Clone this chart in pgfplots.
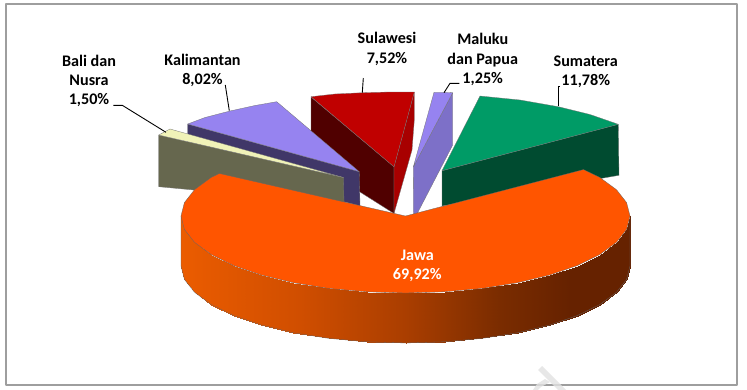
\documentclass[border=0pt]{standalone}
\usepackage{pgfplots}
\pgfplotsset{compat=1.18}
\usepackage{fontspec}
\setmainfont{Carlito}
\definecolor{jawa}{HTML}{FF5500}
\definecolor{kali}{HTML}{9683F0}
\definecolor{kaliw}{HTML}{403768}
\definecolor{bali}{HTML}{F0F2B8}
\definecolor{baliw}{HTML}{66674E}
\definecolor{sul}{HTML}{C00000}
\definecolor{sulL}{HTML}{500000}
\definecolor{sulR}{HTML}{A80000}
\definecolor{mal}{HTML}{9683F0}
\definecolor{malw}{HTML}{7D70C8}
\definecolor{sum}{HTML}{009B66}
\definecolor{sumw}{HTML}{004B30}
\definecolor{wm}{HTML}{E2E2E2}
\tikzset{
  lab/.style={font=\bfseries\fontsize{16.2}{19.3}\selectfont,align=center,text=black,inner sep=0pt},
  edge/.style={draw=black!55,line width=0.3pt},
  lead/.style={draw=black,line width=0.9pt,no marks},
}
\begin{document}
\begin{tikzpicture}
\begin{axis}[
  width=747bp,height=390bp,scale only axis,
  xmin=0,xmax=747,ymin=0,ymax=390,y dir=reverse,
  axis line style={draw=none},ticks=none,clip=false,
  every axis plot/.append style={line join=round},
  colormap={jside}{rgb255(181)=(235,92,0) rgb255(300)=(208,78,0) rgb255(405)=(170,62,0) rgb255(500)=(122,44,0) rgb255(570)=(102,34,0) rgb255(630)=(102,34,0)},
  point meta min=181,point meta max=630,
]
% frame
\addplot[draw=black!38,line width=1.2pt,fill=white] coordinates {(6,4)(737,4)(737,385)(6,385)} --cycle;
% faint watermark strokes
\addplot[fill=wm,draw=none,opacity=0.8] coordinates {(538,370)(542,366)(566,389.9)(558,389.9)} --cycle;
\addplot[fill=wm,draw=none,opacity=0.8] coordinates {(533,389.9)(537,384)(545,379)(550,382)(541,387)(538,389.9)} --cycle;
% Sulawesi
\addplot[fill=sulL,edge] coordinates {(311,97)(394,166.8)(394,213.5)(360,192)(311,160)} --cycle;
\addplot[fill=sulR,edge] coordinates {(414.3,92)(394,166.8)(394,213.5)(412,150)(414.3,120)} --cycle;
\addplot[fill=sul,edge] coordinates {(311,96.7)(335,94)(363,92.7)(390,92)(414.3,92)(394,166.8)} --cycle;
% Kalimantan
\addplot[fill=kaliw,edge] coordinates {(187.7,124)(359.3,171.7)(360,206)(187.7,160)} --cycle;
\addplot[fill=kali,edge] coordinates {(187.7,124)(205,117.5)(230,111)(255,105.5)(276.7,101.7)(359.3,171.7)} --cycle;
% Bali dan Nusra
\addplot[fill=baliw,edge] coordinates {(158.7,135)(343.5,177.5)(344,204)(158.7,186.7)} --cycle;
\addplot[fill=bali,edge] coordinates {(158.7,135)(170,129)(343.5,177.5)} --cycle;
% Maluku dan Papua
\addplot[fill=malw,edge] coordinates {(452.7,92.7)(413.3,167)(413.5,214)(417.5,213)(452.7,145)} --cycle;
\addplot[fill=mal,edge] coordinates {(434,92.3)(443,92.3)(452.7,92.7)(413.3,167)} --cycle;
% Sumatera
\addplot[fill=sumw,edge] coordinates {(442,170.7)(618.3,124.3)(619,175.3)(442,206)} --cycle;
\addplot[fill=sum,edge] coordinates {(480,96)(520,100)(558.3,106.7)(590,114.5)(618.3,124.3)(442,170.7)} --cycle;
% Jawa side
\addplot[surf,shader=interp,mesh/rows=2,point meta=x] coordinates {
 (181,216)(184.4,229.4)(194.5,242.3)(211.1,254.5)(233.5,265.5)(261.2,275)(293.2,282.7)(328.7,288.4)(366.5,291.8)(405.5,293)
 (444.5,291.8)(482.3,288.4)(517.8,282.7)(549.8,275)(577.5,265.5)(599.9,254.5)(616.5,242.3)(626.6,229.4)(630,216)

 (181,266)(184.4,279.4)(194.5,292.3)(211.1,304.5)(233.5,315.5)(261.2,325)(293.2,332.7)(328.7,338.4)(366.5,341.8)(405.5,343)
 (444.5,341.8)(482.3,338.4)(517.8,332.7)(549.8,325)(577.5,315.5)(599.9,304.5)(616.5,292.3)(626.6,279.4)(630,266)};
\addplot[draw=black!60,line width=0.3pt] coordinates {(181,216)(181,266)(184.4,279.4)(194.5,292.3)(211.1,304.5)(233.5,315.5)(261.2,325)(293.2,332.7)(328.7,338.4)(366.5,341.8)(405.5,343)
 (444.5,341.8)(482.3,338.4)(517.8,332.7)(549.8,325)(577.5,315.5)(599.9,304.5)(616.5,292.3)(626.6,279.4)(630,266)(630,216)};
% Jawa top
\addplot[fill=jawa,draw=black!60,line width=0.3pt] coordinates {
 (405.5,216)(583.5,169.6)(599.9,177.5)(616.5,189.7)(626.6,202.6)(630,216)
 (626.6,229.4)(616.5,242.3)(599.9,254.5)(577.5,265.5)(549.8,275)(517.8,282.7)(482.3,288.4)(444.5,291.8)(405.5,293)
 (366.5,291.8)(328.7,288.4)(293.2,282.7)(261.2,275)(233.5,265.5)(211.1,254.5)(194.5,242.3)(184.4,229.4)(181,216)
 (184.4,202.6)(194.5,189.7)(211.1,177.5)(219.4,173.5)} --cycle;
% leaders
\addplot[lead] coordinates {(113.3,105.3)(122.3,105.3)(166,132.3)};
\addplot[lead] coordinates {(225.3,85)(229.3,110.7)};
\addplot[lead] coordinates {(363.3,78)(362.3,92.7)};
\addplot[lead] coordinates {(459.3,83.3)(450,83.3)(444,92.7)};
\addplot[lead] coordinates {(560,86.7)(558,86.7)(558,106)};
% labels
\node[lab] at (axis cs:89,81) {Bali dan\\Nusra\\1,50\%};
\node[lab] at (axis cs:202.5,70.5) {Kalimantan\\8,02\%};
\node[lab] at (axis cs:387,49) {Sulawesi\\7,52\%};
\node[lab] at (axis cs:482.7,59.5) {Maluku\\dan Papua\\1,25\%};
\node[lab] at (axis cs:585.7,71.7) {Sumatera\\11,78\%};
\node[lab,text=white] at (axis cs:417.3,265.5) {Jawa\\69,92\%};
\end{axis}
\end{tikzpicture}
\end{document}
